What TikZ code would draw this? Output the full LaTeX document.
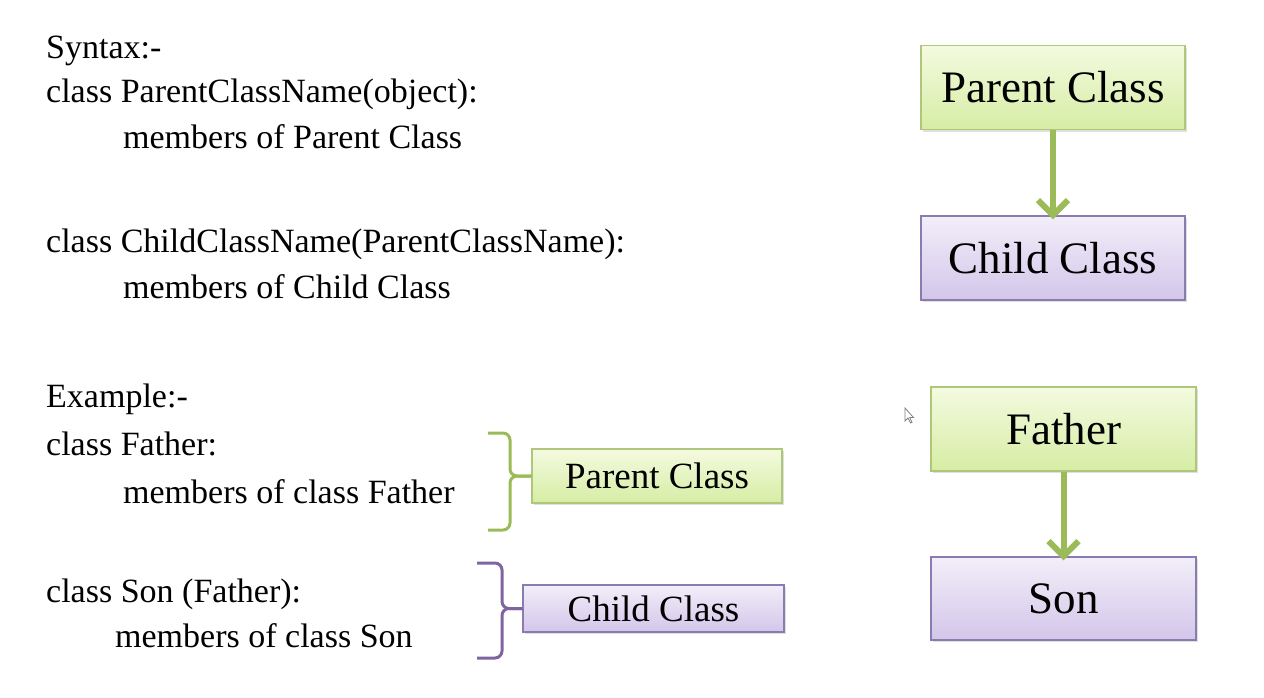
\documentclass[tikz,border=0pt]{standalone}
\usepackage{fontspec}
\setmainfont{Liberation Serif}
\usepackage{tikz}
\usetikzlibrary{arrows.meta,shadows}

\definecolor{olive}{HTML}{9BBB59}
\definecolor{plum}{HTML}{8064A2}
\definecolor{gtop}{HTML}{F4FAE0}
\definecolor{gbot}{HTML}{D6EDA4}
\definecolor{gline}{HTML}{AFC77A}
\definecolor{ptop}{HTML}{F2EEF9}
\definecolor{pbot}{HTML}{D3C6EA}
\definecolor{pline}{HTML}{8A7BB0}

\begin{document}
\begin{tikzpicture}[x=1pt,y=-1pt,
        txt/.style={anchor=base west,inner sep=0pt,font=\fontsize{34}{40}\selectfont},
        gbox/.style={draw=gline,line width=1.2pt,top color=gtop,bottom color=gbot,
            drop shadow={shadow xshift=1.5pt,shadow yshift=-2pt,opacity=0.25},inner sep=0pt},
        pbox/.style={draw=pline,line width=1.2pt,top color=ptop,bottom color=pbot,
            drop shadow={shadow xshift=1.5pt,shadow yshift=-2pt,opacity=0.25},inner sep=0pt},
        big/.style={minimum width=264pt,minimum height=84pt,font=\fontsize{45}{50}\selectfont},
        link/.style={draw=olive,line width=6pt,-{Straight Barb[length=15pt,width=30pt]}},
        gbrace/.style={draw=olive,line width=3pt,rounded corners=7pt},
        pbrace/.style={draw=plum,line width=3pt,rounded corners=7pt}]
        \useasboundingbox (0,0) rectangle (1264,697);

        % syntax
        \node[txt] (s_1) at (46,58) {Syntax:-};
        \node[txt] (s_2) at (46,102) {class ParentClassName(object):};
        \node[txt] (s_3) at (123,148) {members of Parent Class};
        \node[txt] (s_4) at (46,252) {class ChildClassName(ParentClassName):};
        \node[txt] (s_5) at (123,298) {members of Child Class};

        % example
        \node[txt] (e_1) at (46,407) {Example:-};
        \node[txt] (e_2) at (46,455) {class Father:};
        \node[txt] (e_3) at (123,503) {members of class Father};
        \node[txt] (e_4) at (46,602) {class Son (Father):};
        \node[txt] (e_5) at (115,647) {members of class Son};

        % small boxes with braces
        \node[gbox,minimum width=250pt,minimum height=54pt,font=\fontsize{37}{40}\selectfont] (pc) at (657,476) {Parent Class};
        \node[pbox,minimum width=261pt,minimum height=47pt,font=\fontsize{37}{40}\selectfont] (cc) at (653.5,608.5) {Child Class};

        \coordinate (g_top) at (488,433);
        \coordinate (g_bot) at (488,530);
        \coordinate (p_top) at (477,563);
        \coordinate (p_bot) at (477,658);
        \draw[gbrace] (g_top) -- (510,433) -- (510,476) -- (pc.west);
        \draw[gbrace] (pc.west) -- (510,476) -- (510,530) -- (g_bot);
        \draw[pbrace] (p_top) -- (502,563) -- (502,608.5) -- (cc.west);
        \draw[pbrace] (cc.west) -- (502,608.5) -- (502,658) -- (p_bot);

        % hierarchy
        \node[gbox,big] (n_1) at (1053,87.5) {Parent Class};
        \node[pbox,big] (n_2) at (1053,258) {Child Class};
        \node[gbox,big,minimum width=265pt] (n_3) at (1063.5,429) {Father};
        \node[pbox,big,minimum width=265pt,minimum height=83pt] (n_4) at (1063.5,598.5) {Son};
        \draw[link] (n_1) -- ([yshift=-4pt]n_2.north);
        \draw[link] (n_3) -- ([yshift=-4pt]n_4.north);

        % mouse pointer
        \draw[gray,fill=white,line width=0.8pt] (905,408) -- (905,421) -- (908,418) -- (910.5,423) -- (912,422.3) -- (909.7,417.5) -- (913.5,417.5) -- cycle;
\end{tikzpicture}
\end{document}
